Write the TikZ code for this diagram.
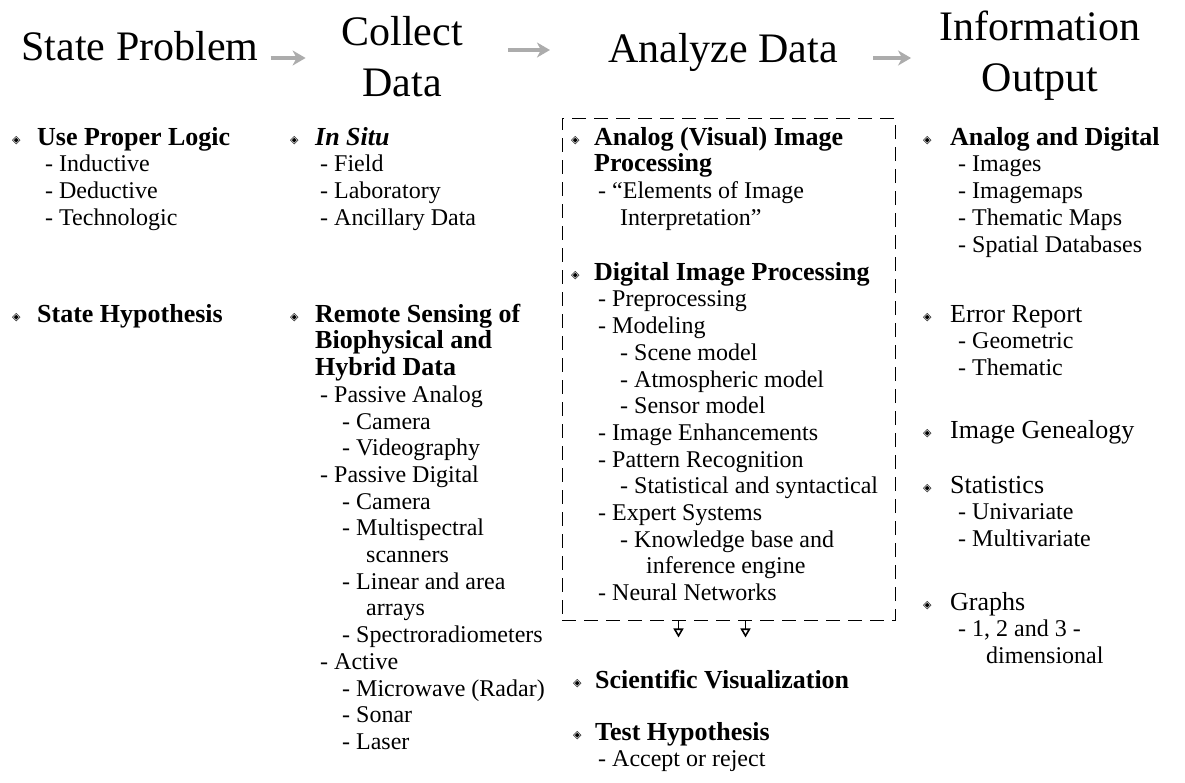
\documentclass[tikz,border=0pt]{standalone}
\usepackage{fontspec}
\setmainfont{Liberation Serif}
\newfontfamily\diafont{DejaVu Sans}
\usetikzlibrary{arrows.meta, positioning, calc}

\newcommand\hdfont{\fontsize{42}{51}\selectfont}
\newcommand\txtfont{\fontsize{24}{26.7}\selectfont}
\newcommand\hi[1]{{\fontsize{26}{26.7}\selectfont #1}}
\newcommand\bul[1][23pt]{\strut\makebox[#1][l]{\raisebox{2pt}{\diafont\fontsize{11}{11}\selectfont ◈}}}
\newcommand\ind[1]{\hspace*{#1pt}}

\begin{document}
\begin{tikzpicture}[x=1pt, y=-1pt,
     > = {Stealth},
hd/.style      = {font=\hdfont, inner sep=0pt, anchor=base},
hdtwo/.style   = {font=\hdfont, inner sep=0pt, anchor=north, yshift=35.7pt,
                  align=center},
group/.style   = {font=\txtfont, inner sep=0pt, anchor=north west,
                  yshift=18.69pt, align=left},
hdarrow/.style = {line width=4pt, draw=gray!65,
                  -{Stealth[length=13pt, width=15pt, inset=4pt]}},
dbox/.style    = {draw, line width=0.9pt, dash pattern=on 14pt off 8pt,
                  inner sep=0pt},
downarr/.style = {line width=1.2pt,
                  -{Triangle[open, length=9pt, width=10pt, line width=1.6pt]}}
                  ]
\useasboundingbox (0,0) rectangle (1185,782);

% headings (positions are baselines of the first line)
\node[hd]    (state)   at (140,60)  {State Problem};
\node[hdtwo] (collect) at (402,45)  {\strut Collect\\Data};
\node[hd]    (analyze) at (723,62)  {Analyze Data};
\node[hdtwo] (info)    at (1040,40) {\strut Information\\Output};

\draw[hdarrow] ([xshift=12pt,yshift=2pt]state.base east) -- ++(35,0);
\draw[hdarrow] ([xshift=-100pt,yshift=12pt]analyze.base west) -- ++(42,0);
\draw[hdarrow] ([xshift=35pt,yshift=4pt]analyze.base east) -- ++(38,0);

% state problem
\node[group] (logic) at (12,145) {\bul[25pt]\hi{\textbf{Use Proper Logic}}\\
    \ind{33}- Inductive\\
    \ind{33}- Deductive\\
    \ind{33}- Technologic};
\node[group] (hypo) at (12,322) {\bul[25pt]\hi{\textbf{State Hypothesis}}};

% collect data
\node[group] (insitu) at (290,145) {\bul[25pt]\hi{\textbf{\textit{In Situ}}}\\
    \ind{30}- Field\\
    \ind{30}- Laboratory\\
    \ind{30}- Ancillary Data};
\node[group] (remote) at (290,322) {\bul[25pt]\hi{\textbf{Remote Sensing of}}\\
    \ind{25}\hi{\textbf{Biophysical and}}\\
    \ind{25}\hi{\textbf{Hybrid Data}}\\
    \ind{30}- Passive Analog\\
    \ind{52}- Camera\\
    \ind{52}- Videography\\
    \ind{30}- Passive Digital\\
    \ind{52}- Camera\\
    \ind{52}- Multispectral\\
    \ind{76}scanners\\
    \ind{52}- Linear and area\\
    \ind{76}arrays\\
    \ind{52}- Spectroradiometers\\
    \ind{30}- Active\\
    \ind{52}- Microwave (Radar)\\
    \ind{52}- Sonar\\
    \ind{52}- Laser};

% analyze data
\node[dbox, minimum width=333pt, minimum height=502pt] (box) at (728.5,369) {};
\node[group] (analog) at (571,145) {\bul[23pt]\hi{\textbf{Analog (Visual) Image}}\\
    \ind{23}\hi{\textbf{Processing}}\\
    \ind{27}- “Elements of Image\\
    \ind{49}Interpretation”};
\node[group] (digital) at (571,280) {\bul[23pt]\hi{\textbf{Digital Image Processing}}\\
    \ind{27}- Preprocessing\\
    \ind{27}- Modeling\\
    \ind{49}- Scene model\\
    \ind{49}- Atmospheric model\\
    \ind{49}- Sensor model\\
    \ind{27}- Image Enhancements\\
    \ind{27}- Pattern Recognition\\
    \ind{49}- Statistical and syntactical\\
    \ind{27}- Expert Systems\\
    \ind{49}- Knowledge base and\\
    \ind{75}inference engine\\
    \ind{27}- Neural Networks};
\draw[downarr] ([xshift=-50pt]box.south) -- ++(0,17);
\draw[downarr] ([xshift=17pt]box.south) -- ++(0,17);

\node[group] (scivis) at (573,688) {\bul[22pt]\hi{\textbf{Scientific Visualization}}};
\node[group] (test) at (573,740) {\bul[22pt]\hi{\textbf{Test Hypothesis}}\\
    \ind{25}- Accept or reject};

% information output
\node[group] (andig) at (923,145) {\bul[27pt]\hi{\textbf{Analog and Digital}}\\
    \ind{35}- Images\\
    \ind{35}- Imagemaps\\
    \ind{35}- Thematic Maps\\
    \ind{35}- Spatial Databases};
\node[group] (error) at (923,322) {\bul[27pt]\hi{Error Report}\\
    \ind{35}- Geometric\\
    \ind{35}- Thematic};
\node[group] (genea) at (923,438) {\bul[27pt]\hi{Image Genealogy}};
\node[group] (stats) at (923,493) {\bul[27pt]\hi{Statistics}\\
    \ind{35}- Univariate\\
    \ind{35}- Multivariate};
\node[group] (graphs) at (923,610) {\bul[27pt]\hi{Graphs}\\
    \ind{35}- 1, 2 and 3 -\\
    \ind{63}dimensional};
\end{tikzpicture}
\end{document}
